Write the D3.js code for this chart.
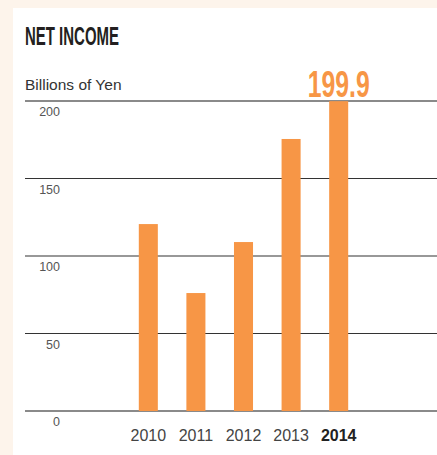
<!DOCTYPE html>
<html>
<head>
<meta charset="utf-8">
<script src="https://cdn.jsdelivr.net/npm/d3@7"></script>
<style>
  html, body { margin: 0; padding: 0; background: #fdf4eb; }
  svg { display: block; }
</style>
</head>
<body>
<div id="chart"></div>
<script>
var years = ['2010', '2011', '2012', '2013', '2014'];
var netIncome = [120.6, 76.1, 109.0, 175.5, 199.9];
var tickValues = [0, 50, 100, 150, 200];
var highlightLabel = '199.9';

var width = 437, height = 455;
var svg = d3.select('#chart').append('svg')
	.attr('width', width)
	.attr('height', height);

// white panel
svg.append('rect')
	.attr('x', 13).attr('y', 8)
	.attr('width', width - 13).attr('height', height - 8)
	.attr('fill', '#ffffff');

var y = d3.scaleLinear().domain([0, 200]).range([411, 101]);
var x = d3.scaleBand().domain(years).range([115, 372]).paddingInner(0.6).paddingOuter(0.5);

// gridlines
svg.append('g').selectAll('line')
	.data(tickValues)
	.enter().append('line')
	.attr('x1', 25).attr('x2', width)
	.attr('y1', function (d) { return y(d); })
	.attr('y2', function (d) { return y(d); })
	.attr('stroke', function (d) { return (d === 0 || d === 200) ? '#8a8a8a' : '#333'; })
	.attr('stroke-width', function (d) { return (d === 0 || d === 200) ? 2 : 1.2; });

// tick labels below the gridlines
svg.append('g').selectAll('text')
	.data(tickValues)
	.enter().append('text')
	.attr('x', 60)
	.attr('y', function (d) { return y(d) + 15; })
	.attr('text-anchor', 'end')
	.attr('font-family', 'Liberation Sans, Arial, sans-serif')
	.attr('font-size', 12.5)
	.attr('fill', '#555')
	.text(function (d) { return d; });

// bars
svg.append('g').selectAll('rect')
	.data(netIncome)
	.enter().append('rect')
	.attr('x', function (d, i) { return x(years[i]); })
	.attr('width', x.bandwidth())
	.attr('y', function (d) { return y(d); })
	.attr('height', function (d) { return y(0) - y(d); })
	.attr('fill', '#f79646');

// year labels
svg.append('g').selectAll('text')
	.data(years)
	.enter().append('text')
	.attr('x', function (d) { return x(d) + x.bandwidth() / 2; })
	.attr('y', 441)
	.attr('text-anchor', 'middle')
	.attr('font-family', 'Liberation Sans, Arial, sans-serif')
	.attr('font-size', 16)
	.attr('font-weight', function (d, i) { return i === years.length - 1 ? 'bold' : 'normal'; })
	.attr('fill', function (d, i) { return i === years.length - 1 ? '#222' : '#444'; })
	.text(function (d) { return d; });

// title
svg.append('text')
	.attr('x', 25).attr('y', 45)
	.attr('font-family', 'Liberation Sans Narrow, Arial Narrow, sans-serif')
	.attr('font-weight', 'bold')
	.attr('font-size', 25)
	.attr('textLength', 94)
	.attr('lengthAdjust', 'spacingAndGlyphs')
	.attr('fill', '#231f20')
	.text('NET INCOME');

svg.append('text')
	.attr('x', 25).attr('y', 90)
	.attr('font-family', 'Liberation Sans, Arial, sans-serif')
	.attr('font-size', 15.5)
	.attr('fill', '#333')
	.text('Billions of Yen');

// highlight value over last bar
var last = years.length - 1;
svg.append('text')
	.attr('x', x(years[last]) + x.bandwidth() / 2)
	.attr('y', 97)
	.attr('text-anchor', 'middle')
	.attr('font-family', 'Liberation Sans Narrow, Arial Narrow, sans-serif')
	.attr('font-weight', 'bold')
	.attr('font-size', 36)
	.attr('textLength', 62)
	.attr('lengthAdjust', 'spacingAndGlyphs')
	.attr('fill', '#f79646')
	.text(highlightLabel);
</script>
</body>
</html>
